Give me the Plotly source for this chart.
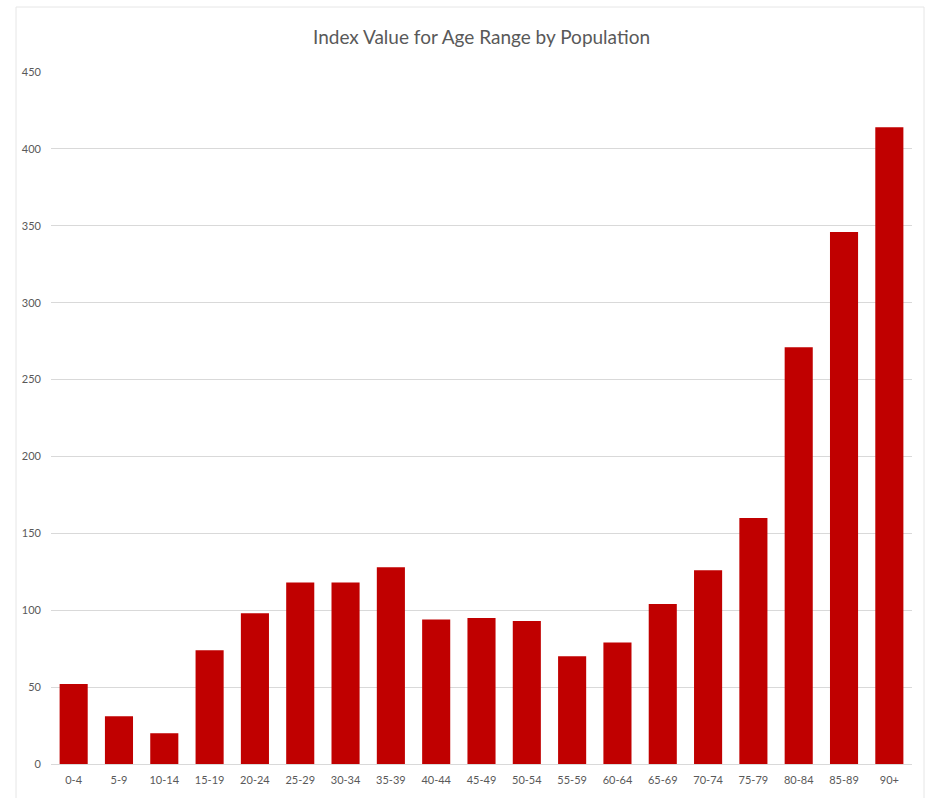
import plotly.graph_objects as go

age_ranges = ["0-4", "5-9", "10-14", "15-19", "20-24", "25-29", "30-34", "35-39",
              "40-44", "45-49", "50-54", "55-59", "60-64", "65-69", "70-74", "75-79",
              "80-84", "85-89", "90+"]
index_values = [52, 31, 20, 74, 98, 118, 118, 128, 94, 95, 93, 70, 79, 104, 126, 160, 271, 346, 414]
y_ticks = [0, 50, 100, 150, 200, 250, 300, 350, 400, 450]

font_family = "Lato, 'Open Sans', sans-serif"
text_color = "#595959"

fig = go.Figure(go.Bar(
    x=age_ranges,
    y=index_values,
    marker=dict(color="#C00000", line=dict(width=0)),
))

fig.update_layout(
    width=926, height=798,
    margin=dict(l=51, r=14, t=72, b=34),
    paper_bgcolor="white",
    plot_bgcolor="white",
    bargap=0.38,
    showlegend=False,
    title=dict(
        text="Index Value for Age Range by Population",
        x=0.5, xanchor="center", xref="paper",
        y=1 - 37 / 798, yanchor="middle",
        font=dict(family=font_family, size=19, color=text_color),
    ),
    xaxis=dict(
        type="category",
        showgrid=False,
        showline=True, linecolor="#d9d9d9", linewidth=1,
        ticks="",
        tickfont=dict(family=font_family, size=11, color=text_color),
        ticklabelstandoff=6,
    ),
    yaxis=dict(
        range=[0, 450],
        tickvals=y_ticks,
        showgrid=True, gridcolor="#d9d9d9", gridwidth=1,
        zeroline=False,
        showline=False,
        ticks="",
        tickfont=dict(family=font_family, size=11, color=text_color),
        ticklabelstandoff=9,
    ),
    shapes=[dict(
        type="rect", xref="paper", yref="paper",
        x0=-35 / 861, x1=1 + 12 / 861, y0=-0.2, y1=1 + 65 / 692,
        line=dict(color="#e6e6e6", width=1), fillcolor="rgba(0,0,0,0)",
        layer="below",
    )],
)

fig.write_html("out.html")
